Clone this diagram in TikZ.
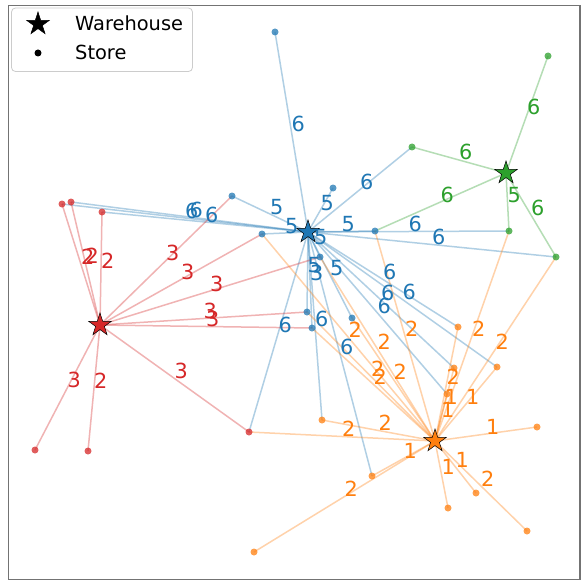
\documentclass[tikz,border=0pt]{standalone}
\usepackage{fontspec}
\setmainfont{DejaVu Sans}
\usepackage{xcolor}
\usetikzlibrary{shapes.geometric, backgrounds}
\definecolor{tabblue}{HTML}{1F77B4}
\definecolor{taborange}{HTML}{FF7F0E}
\definecolor{tabgreen}{HTML}{2CA02C}
\definecolor{tabred}{HTML}{D62728}

\begin{document}
\begin{tikzpicture}[
  x=1pt, y=-1pt,
  store/.style={circle, fill=#1, fill opacity=0.75, inner sep=0pt, minimum size=7pt},
  warehouse/.style={star, star points=5, star point ratio=2.618, draw=black, line width=0.5pt, fill=#1, inner sep=0pt, minimum size=24pt},
  route/.style={draw=#1, draw opacity=0.35, line width=1.5pt},
  amount/.style={text=#1, font=\fontsize{20.8}{24}\selectfont, anchor=base west, inner sep=0pt},
  key label/.style={font=\fontsize{19.4}{23}\selectfont, anchor=west, inner sep=0pt}
]
\useasboundingbox (0,0) rectangle (588,588);
\begin{scope}[on background layer]
  \fill[white] (0,0) rectangle (588,588);
\end{scope}
\draw[black!55, line width=1.1pt] (8.5,5.5) rectangle (580,579.5);

\foreach \name/\x/\y in {b1/275/32, b2/232/196, b3/333/188, b4/262/234, b5/375/231,
    b6/320/257, b7/307/312, b8/312/328, b9/352/318}
  \node[store=tabblue] (\name) at (\x,\y) {};
\foreach \name/\x/\y in {r1/62/204, r2/71/202, r3/102/212, r4/35/450, r5/88/451, r6/249/432}
  \node[store=tabred] (\name) at (\x,\y) {};
\foreach \name/\x/\y in {g1/548/56, g2/412/147, g3/509/231, g4/556/257}
  \node[store=tabgreen] (\name) at (\x,\y) {};
\foreach \name/\x/\y in {o1/458/327, o2/497/367, o3/454/368, o4/447/394, o5/322/420, o6/537/427,
    o7/372/476, o8/476/493, o9/448/508, o10/527/531, o11/254/552}
  \node[store=taborange] (\name) at (\x,\y) {};

\node[warehouse=tabblue] (whblue) at (308,232) {};
\node[warehouse=tabred] (whred) at (100,325) {};
\node[warehouse=tabgreen] (whgreen) at (506,173) {};
\node[warehouse=taborange] (whorange) at (435,441) {};

\foreach \s/\n in {b1/6, b2/5, b3/5, b4/5, b5/5, b6/5, b7/5, b8/3, b9/5, g2/6, g3/6, g4/6,
    o1/6, o2/6, o3/6, o4/6, o5/6, o7/6, r1/6, r2/6, r3/6, r6/6} {
  \begin{scope}[on background layer]
    \draw[route=tabblue] (whblue.center) -- (\s.center);
  \end{scope}
  \path (whblue.center) -- (\s.center) node[amount=tabblue, pos=0.5] {\n};
}
\foreach \s/\n in {r1/2, r2/2, r3/2, r4/3, r5/2, r6/3, b2/3, b4/3, b6/3, b7/3, b8/3} {
  \begin{scope}[on background layer]
    \draw[route=tabred] (whred.center) -- (\s.center);
  \end{scope}
  \path (whred.center) -- (\s.center) node[amount=tabred, pos=0.5] {\n};
}
\foreach \s/\n in {g1/6, g2/6, b5/6, g3/5, g4/6} {
  \begin{scope}[on background layer]
    \draw[route=tabgreen] (whgreen.center) -- (\s.center);
  \end{scope}
  \path (whgreen.center) -- (\s.center) node[amount=tabgreen, pos=0.5] {\n};
}
\foreach \s/\n in {b4/2, b6/2, b5/2, g3/2, g4/2, b7/2, b8/2, b9/2, o1/2, o3/1, o4/1, o2/1,
    o6/1, r6/2, o5/2, o7/1, o9/1, o8/1, o10/2, o11/2} {
  \begin{scope}[on background layer]
    \draw[route=taborange] (whorange.center) -- (\s.center);
  \end{scope}
  \path (whorange.center) -- (\s.center) node[amount=taborange, pos=0.5] {\n};
}

\draw[black!20, fill=white, fill opacity=0.8, rounded corners=4pt, line width=0.8pt] (11.5,8) rectangle (192.5,71.5);
\node[warehouse=black] (keystar) at (38,24) {};
\node[store=black, fill opacity=1] (keydot) at (38,53) {};
\node[key label] (keywh) at (75,23.5) {Warehouse};
\node[key label] (keyst) at (75,52) {Store};
\end{tikzpicture}
\end{document}
